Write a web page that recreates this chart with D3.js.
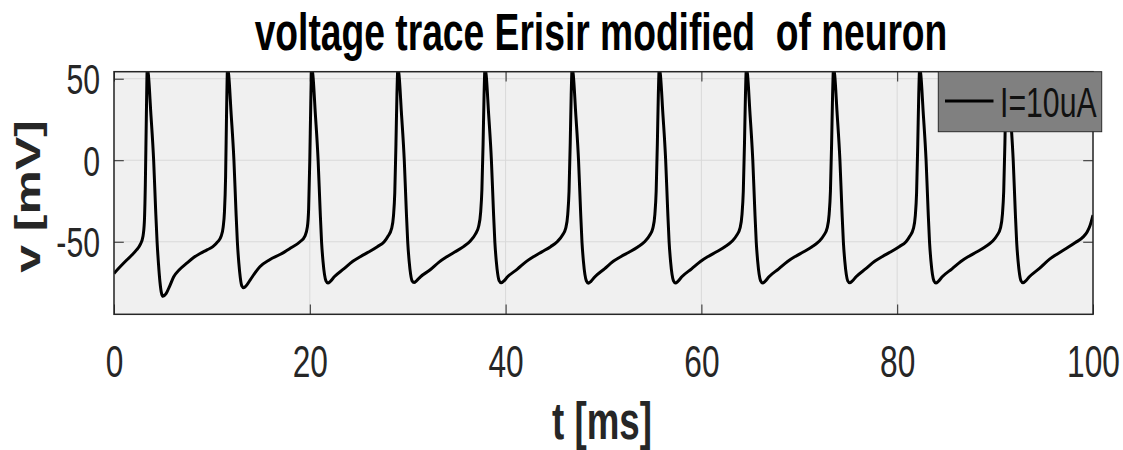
<!DOCTYPE html>
<html>
<head>
<meta charset="utf-8">
<script src="https://cdn.jsdelivr.net/npm/d3@7"></script>
<style>
  html, body { margin: 0; padding: 0; background: #ffffff; }
  svg { display: block; }
  text { font-family: "Liberation Sans", Arial, sans-serif; }
</style>
</head>
<body>
<svg id="chart" width="1123" height="450"></svg>
<script>
// ---------------- data ----------------
const titleText = "voltage trace Erisir modified  of neuron";
const xLabelText = "t [ms]";
const yLabelText = "v [mV]";
const legendLabel = "I=10uA";

const xTicks = [0, 20, 40, 60, 80, 100];
const yTicks = [-50, 0, 50];
const xTickLabels = ["0", "20", "40", "60", "80", "100"];
const yTickLabels = ["-50", "0", "50"];
const xDomain = [0, 100];
const yDomain = [-94.5, 54.3];

// time samples (ms), one row per spike cycle
const timeMs = [
  0, 0.6, 1.3, 1.8, 2.3, 2.7, 2.95, 3.1, 3.2, 3.3, 3.4,
  3.52, 3.75, 4.05, 4.25, 4.4, 4.55, 4.7, 4.85, 5.0, 5.3, 5.7, 6.1, 6.7, 7.4, 8.1, 8.8, 9.5, 10.1, 10.6, 10.95, 11.15, 11.28, 11.4, 11.5, 11.6,
  11.72, 11.95, 12.25, 12.45, 12.6, 12.75, 12.9, 13.05, 13.25, 13.5, 13.9, 14.9, 15.9, 17.0, 18.0, 19.0, 19.5, 19.75, 19.88, 20.0, 20.1, 20.2,
  20.32, 20.55, 20.85, 21.05, 21.2, 21.35, 21.5, 21.65, 21.85, 22.1, 22.5, 23.5, 24.4, 25.2, 26.0, 26.9, 27.6, 28.0, 28.35, 28.55, 28.68, 28.8, 28.9, 29.0,
  29.12, 29.35, 29.65, 29.85, 30.0, 30.15, 30.3, 30.45, 30.65, 30.9, 31.3, 32.3, 33.2, 34.0, 34.8, 35.7, 36.4, 36.9, 37.25, 37.45, 37.58, 37.7, 37.8, 37.9,
  38.02, 38.25, 38.55, 38.75, 38.9, 39.05, 39.2, 39.35, 39.55, 39.8, 40.2, 41.2, 42.1, 42.9, 43.7, 44.6, 45.3, 45.8, 46.15, 46.35, 46.48, 46.6, 46.7, 46.8,
  46.92, 47.15, 47.45, 47.65, 47.8, 47.95, 48.1, 48.25, 48.45, 48.7, 49.1, 50.1, 51.0, 51.8, 52.6, 53.5, 54.2, 54.7, 55.05, 55.25, 55.38, 55.5, 55.6, 55.7,
  55.82, 56.05, 56.35, 56.55, 56.7, 56.85, 57.0, 57.15, 57.35, 57.6, 58.0, 59.0, 59.9, 60.7, 61.5, 62.4, 63.1, 63.6, 63.95, 64.15, 64.28, 64.4, 64.5, 64.6,
  64.72, 64.95, 65.25, 65.45, 65.6, 65.75, 65.9, 66.05, 66.25, 66.5, 66.9, 67.9, 68.8, 69.6, 70.4, 71.3, 72.0, 72.5, 72.85, 73.05, 73.18, 73.3, 73.4, 73.5,
  73.62, 73.85, 74.15, 74.35, 74.5, 74.65, 74.8, 74.95, 75.15, 75.4, 75.8, 76.8, 77.7, 78.5, 79.3, 80.2, 80.9, 81.3, 81.65, 81.85, 81.98, 82.1, 82.2, 82.3,
  82.42, 82.65, 82.95, 83.15, 83.3, 83.45, 83.6, 83.75, 83.95, 84.2, 84.6, 85.6, 86.5, 87.3, 88.1, 89.0, 89.7, 90.2, 90.55, 90.75, 90.88, 91.0, 91.1, 91.2,
  91.32, 91.55, 91.85, 92.05, 92.2, 92.35, 92.5, 92.65, 92.85, 93.1, 93.5, 94.5, 95.6, 96.4, 97.3, 98.2, 99.0, 99.4, 99.7, 100
];

// membrane voltage (mV), matching timeMs row by row
const voltageMv = [
  -69.4, -65.5, -61.2, -58.3, -55, -51.5, -47, -38, -15, 25, 57,
  52, 30, 0, -30, -50, -64, -75, -81.5, -83.5, -82, -77, -71.5, -67, -63.3, -59.8, -57.2, -55, -53, -50, -46.5, -41, -32, -10, 30, 57,
  52, 30, 0, -30, -50, -63, -72, -77, -78.2, -77, -73.5, -65.3, -61, -57.7, -54, -50, -46.5, -41, -30, 0, 35, 57,
  52, 30, 0, -30, -50, -62, -70, -74, -75.3, -74.3, -71.5, -66.5, -62, -59, -56.3, -53, -50, -46.5, -42, -34, -20, 10, 40, 57,
  52, 30, 0, -30, -50, -62, -70, -74, -75, -74, -71.5, -67.2, -62.5, -59.2, -56.3, -53, -49.5, -45.5, -40.5, -32, -18, 10, 40, 57,
  52, 30, 0, -30, -50, -62, -70, -74, -75.2, -74.2, -71.5, -66.8, -62.2, -59, -56.2, -53, -49.8, -46, -41.5, -33, -19, 10, 40, 57,
  52, 30, 0, -30, -50, -62, -70, -74, -75.4, -74.4, -71.6, -66.6, -62, -59, -56.4, -53.2, -50, -46.2, -41.5, -33, -19, 10, 40, 57,
  52, 30, 0, -30, -50, -62, -70, -74, -75.3, -74.3, -71.5, -66.6, -62.1, -59, -56.3, -53.1, -49.9, -46.1, -41.5, -33, -19, 10, 40, 57,
  52, 30, 0, -30, -50, -62, -70, -74, -75.3, -74.3, -71.5, -66.6, -62.1, -59, -56.3, -53.1, -49.9, -46.1, -41.5, -33, -19, 10, 40, 57,
  52, 30, 0, -30, -50, -62, -70, -74, -75.2, -74.2, -71.5, -66.5, -62, -59, -56.3, -53, -50, -46.5, -42, -34, -20, 10, 40, 57,
  52, 30, 0, -30, -50, -62, -70, -74, -75.3, -74.3, -71.5, -66.6, -62.1, -59, -56.3, -53.1, -49.9, -46.1, -41.5, -33, -19, 10, 40, 57,
  52, 30, 0, -30, -50, -62, -70, -74, -75.2, -74.2, -71.5, -66.5, -60.5, -57.3, -54, -50.5, -47, -44, -40, -33.6
];

// ---------------- drawing ----------------
const svg = d3.select("#chart");
const plot = { left: 114, right: 1093, top: 71.7, bottom: 314.3 };
const squeeze = 0.72;          // horizontal condensation of all lettering
const tickLen = 9.8;
const axisColor = "#262626";

const x = d3.scaleLinear().domain(xDomain).range([plot.left, plot.right]);
const y = d3.scaleLinear().domain(yDomain).range([plot.bottom, plot.top]);

// background of axes
svg.append("rect")
  .attr("x", plot.left).attr("y", plot.top)
  .attr("width", plot.right - plot.left).attr("height", plot.bottom - plot.top)
  .attr("fill", "#f0f0f0");

// grid
const grid = svg.append("g").attr("stroke", "#d9d9d9").attr("stroke-width", 1);
grid.selectAll("line.gx").data(xTicks).join("line")
  .attr("x1", d => x(d)).attr("x2", d => x(d))
  .attr("y1", plot.top).attr("y2", plot.bottom);
grid.selectAll("line.gy").data(yTicks).join("line")
  .attr("x1", plot.left).attr("x2", plot.right)
  .attr("y1", d => y(d)).attr("y2", d => y(d));

// axes (ticks inside, on all four sides)
const xFmt = d => xTickLabels[xTicks.indexOf(d)];
const yFmt = d => yTickLabels[yTicks.indexOf(d)];
const gBottom = svg.append("g").attr("transform", `translate(0,${plot.bottom})`)
  .call(d3.axisBottom(x).tickValues(xTicks).tickSize(-tickLen).tickSizeOuter(0).tickFormat(xFmt));
const gTop = svg.append("g").attr("transform", `translate(0,${plot.top})`)
  .call(d3.axisTop(x).tickValues(xTicks).tickSize(-tickLen).tickSizeOuter(0).tickFormat(""));
const gLeft = svg.append("g").attr("transform", `translate(${plot.left},0)`)
  .call(d3.axisLeft(y).tickValues(yTicks).tickSize(-tickLen).tickSizeOuter(0).tickFormat(yFmt));
const gRight = svg.append("g").attr("transform", `translate(${plot.right},0)`)
  .call(d3.axisRight(y).tickValues(yTicks).tickSize(-tickLen).tickSizeOuter(0).tickFormat(""));

[gBottom, gTop, gLeft, gRight].forEach(g => {
  g.select(".domain").remove();
  g.selectAll(".tick line").attr("stroke", axisColor).attr("stroke-width", 1);
});

gBottom.selectAll(".tick text")
  .attr("y", 62.7).attr("dy", 0)
  .attr("font-size", 44).attr("fill", axisColor)
  .attr("font-family", "Liberation Sans, Arial, sans-serif")
  .attr("transform", `scale(${squeeze},1)`);

gLeft.selectAll(".tick text")
  .attr("x", -14 / squeeze).attr("dy", "0.36em")
  .attr("font-size", 42).attr("fill", axisColor)
  .attr("font-family", "Liberation Sans, Arial, sans-serif")
  .attr("transform", `scale(${squeeze},1)`);

// trace, clipped to the axes box
svg.append("clipPath").attr("id", "plotClip")
  .append("rect")
  .attr("x", plot.left).attr("y", plot.top)
  .attr("width", plot.right - plot.left).attr("height", plot.bottom - plot.top);

const points = timeMs.map((t, i) => [t, voltageMv[i]]);
const line = d3.line()
  .x(d => x(d[0]))
  .y(d => y(d[1]))
  .curve(d3.curveMonotoneX);

svg.append("path")
  .datum(points)
  .attr("clip-path", "url(#plotClip)")
  .attr("fill", "none")
  .attr("stroke", "#000000")
  .attr("stroke-width", 3)
  .attr("stroke-linejoin", "round")
  .attr("d", line);

// axes box
svg.append("rect")
  .attr("x", plot.left).attr("y", plot.top)
  .attr("width", plot.right - plot.left).attr("height", plot.bottom - plot.top)
  .attr("fill", "none").attr("stroke", axisColor).attr("stroke-width", 1.5);

// title
svg.append("text")
  .attr("transform", `translate(601,50) scale(0.73,1)`)
  .attr("text-anchor", "middle")
  .attr("font-size", 51).attr("font-weight", "bold")
  .attr("fill", "#000000")
  .style("white-space", "pre")
  .text(titleText);

// x label
svg.append("text")
  .attr("transform", `translate(602,438.5) scale(${squeeze},1)`)
  .attr("text-anchor", "middle")
  .attr("font-size", 51).attr("font-weight", "bold")
  .attr("fill", axisColor)
  .text(xLabelText);

// y label (rotated; glyph height is condensed)
svg.append("text")
  .attr("transform", `translate(39.5,196.5) rotate(-90) scale(1,${squeeze})`)
  .attr("text-anchor", "middle")
  .attr("font-size", 50).attr("font-weight", "bold")
  .attr("fill", axisColor)
  .text(yLabelText);

// legend
const legend = svg.append("g");
legend.append("rect")
  .attr("x", 938.3).attr("y", 71.7)
  .attr("width", 1101.7 - 938.3).attr("height", 131.7 - 71.7)
  .attr("fill", "#808080").attr("stroke", "#2b2b2b").attr("stroke-width", 1);
legend.append("line")
  .attr("x1", 945).attr("x2", 993.5)
  .attr("y1", 101).attr("y2", 101)
  .attr("stroke", "#000000").attr("stroke-width", 3);
legend.append("text")
  .attr("transform", `translate(1000,116.7) scale(${squeeze},1)`)
  .attr("font-size", 42)
  .attr("fill", "#111111")
  .text(legendLabel);
</script>
</body>
</html>
